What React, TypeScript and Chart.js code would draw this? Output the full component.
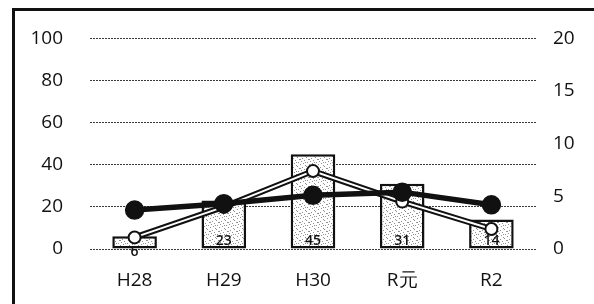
import React, { useEffect, useRef } from "react";
import { Chart, registerables } from "chart.js";

Chart.register(...registerables);

const categories = ["H28", "H29", "H30", "R元", "R2"];
const barValues = [6, 23, 45, 31, 14];
const blackLine = [3.7, 4.3, 5.1, 5.4, 4.2];
const whiteLine = [1.1, 4.0, 7.4, 4.5, 1.9];
const leftMax = 100;
const leftStep = 20;
const rightMax = 20;
const rightStep = 5;

const FONT = "'Open Sans', Lato, 'Liberation Sans', sans-serif";

function makePattern(): CanvasPattern | string {
  const c = document.createElement("canvas");
  c.width = 9;
  c.height = 9;
  const g = c.getContext("2d");
  if (!g) return "#e6e6e6";
  g.fillStyle = "#ffffff";
  g.fillRect(0, 0, 9, 9);
  g.fillStyle = "#909090";
  const dots = [
    [1, 0],
    [6, 1],
    [3, 2],
    [8, 3],
    [0, 4],
    [5, 5],
    [2, 6],
    [7, 7],
    [4, 8],
    [8, 0],
    [3, 6],
  ];
  dots.forEach(([x, y]) => g.fillRect(x, y, 1, 1));
  const p = g.createPattern(c, "repeat");
  return p || "#e6e6e6";
}

const framePlugin = {
  id: "frame",
  beforeDraw(chart: any) {
    const ctx = chart.ctx;
    ctx.save();
    ctx.fillStyle = "#ffffff";
    ctx.fillRect(0, 0, chart.width, chart.height);
    ctx.fillStyle = "#111111";
    ctx.fillRect(12, 8, 3, chart.height);
    ctx.fillRect(12, 8, chart.width, 3);
    ctx.restore();
  },
};

const barLabelPlugin = {
  id: "barLabels",
  afterDatasetDraw(chart: any, args: any) {
    if (args.index !== 0) return;
    const ctx = chart.ctx;
    const meta = chart.getDatasetMeta(0);
    ctx.save();
    ctx.font = `600 14px ${FONT}`;
    ctx.fillStyle = "#111111";
    ctx.textAlign = "center";
    ctx.textBaseline = "middle";
    meta.data.forEach((el: any, i: number) => {
      const h = el.base - el.y;
      const y = h > 18 ? el.base - 7 : el.base + 4;
      ctx.fillText(String(barValues[i]), el.x, y);
    });
    ctx.restore();
  },
};

export default function App() {
  const ref = useRef<HTMLCanvasElement | null>(null);

  useEffect(() => {
    if (!ref.current) return;
    const pattern = makePattern();
    const tickFont = { family: FONT, size: 19, weight: 500 };
    const chart = new Chart(ref.current, {
      type: "bar",
      data: {
        labels: categories,
        datasets: [
          {
            type: "bar",
            data: barValues,
            backgroundColor: pattern as any,
            borderColor: "#111111",
            borderWidth: 2.5,
            borderSkipped: false,
            barPercentage: 0.5,
            categoryPercentage: 1,
            yAxisID: "y",
            order: 4,
          },
          {
            type: "line",
            data: whiteLine,
            borderColor: "#111111",
            borderWidth: 6,
            pointRadius: 0,
            yAxisID: "y2",
            order: 3,
          },
          {
            type: "line",
            data: whiteLine,
            borderColor: "#ffffff",
            borderWidth: 2,
            pointRadius: 6,
            pointBackgroundColor: "#ffffff",
            pointBorderColor: "#111111",
            pointBorderWidth: 2,
            yAxisID: "y2",
            order: 2,
          },
          {
            type: "line",
            data: blackLine,
            borderColor: "#111111",
            borderWidth: 5.5,
            pointRadius: 7,
            pointBackgroundColor: "#111111",
            pointBorderColor: "#111111",
            yAxisID: "y2",
            order: 1,
          },
        ],
      } as any,
      options: {
        responsive: false,
        animation: false,
        devicePixelRatio: 1,
        layout: { padding: { top: 36, left: 0, right: 0, bottom: 0 } },
        plugins: {
          legend: { display: false },
          tooltip: { enabled: false },
        },
        scales: {
          x: {
            grid: { display: false },
            border: { display: false },
            ticks: {
              color: "#111111",
              font: tickFont,
              padding: 12,
            },
            afterFit(scale: any) {
              scale.height = 55;
            },
          },
          y: {
            position: "left",
            min: 0,
            max: leftMax,
            ticks: {
              stepSize: leftStep,
              color: "#111111",
              font: tickFont,
              padding: 27,
            },
            grid: {
              color: "#3a3a3a",
              lineWidth: 1,
              drawTicks: false,
            },
            border: { display: false, dash: [2, 1] },
            afterFit(scale: any) {
              scale.width = 90;
            },
          },
          y2: {
            position: "right",
            min: 0,
            max: rightMax,
            ticks: {
              stepSize: rightStep,
              color: "#111111",
              font: tickFont,
              padding: 17,
            },
            grid: { display: false, drawTicks: false },
            border: { display: false },
            afterFit(scale: any) {
              scale.width = 58;
            },
          },
        },
      } as any,
      plugins: [framePlugin, barLabelPlugin],
    });
    return () => chart.destroy();
  }, []);

  return (
    <div style={{ position: "absolute", left: 0, top: 0, width: 594, height: 304 }}>
      <canvas ref={ref} width={594} height={304} style={{ width: 594, height: 304, display: "block" }} />
    </div>
  );
}
